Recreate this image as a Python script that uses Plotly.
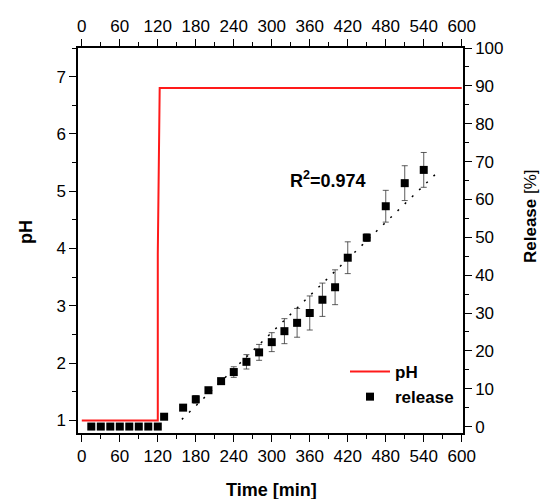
import plotly.graph_objects as go

# pH profile of the release medium
ph_time = [0, 120, 120, 123, 600]
ph_value = [1.0, 1.0, 3.9, 6.8, 6.8]

# cumulative release (%) with standard deviation
rel_time = [15, 30, 45, 60, 75, 90, 105, 120,
            130, 160, 180, 200, 220, 240, 260, 280, 300, 320, 340, 360,
            380, 400, 420, 450, 480, 510, 540]
rel_value = [0, 0, 0, 0, 0, 0, 0, 0,
             2.6, 5.0, 7.2, 9.6, 12.0, 14.4, 17.1, 19.6, 22.3, 25.2, 27.4, 30.0,
             33.5, 36.8, 44.6, 49.9, 58.2, 64.3, 67.8]
rel_error = [0, 0, 0, 0, 0, 0, 0, 0,
             0.3, 0.5, 1.0, 0.5, 0.5, 1.4, 1.9, 2.1, 2.5, 3.3, 3.8, 4.5,
             4.4, 4.6, 4.2, 1.0, 4.2, 4.6, 4.6]

# linear fit of the release phase
fit_time = [158, 560]
fit_value = [1.9, 66.9]
r_squared = "0.974"

time_ticks = list(range(0, 601, 60))

FONT = "Liberation Sans, Arial, sans-serif"
L, R, T, B = 78, 78, 48, 66
W, H = 541, 499
PW, PH = W - L - R, H - T - B


def px_x(px):
    return (px - L) / PW


def px_y(py):
    return 1 - (py - T) / PH


fig = go.Figure()

fig.add_trace(go.Scatter(
    x=ph_time, y=ph_value, mode="lines", name="<b>pH</b>",
    line=dict(color="#ff1a1a", width=2), xaxis="x", yaxis="y",
))
fig.add_trace(go.Scatter(
    x=rel_time, y=rel_value, mode="markers", name="<b>release</b>",
    marker=dict(symbol="square", size=8, color="black"),
    error_y=dict(type="data", array=rel_error, visible=True,
                 color="#333333", thickness=0.8, width=3),
    xaxis="x", yaxis="y2",
))
fig.add_trace(go.Scatter(
    x=fit_time, y=fit_value, mode="lines", showlegend=False,
    line=dict(color="black", width=1.5, dash="2px,8px"),
    xaxis="x", yaxis="y2",
))
# invisible trace so the top time axis is drawn
fig.add_trace(go.Scatter(
    x=[0], y=[1], mode="markers", showlegend=False, hoverinfo="skip",
    marker=dict(opacity=0), xaxis="x2", yaxis="y",
))

x_range = [-6, 602]
axis_common = dict(
    showgrid=False, zeroline=False, showline=True, linecolor="black",
    linewidth=1.5, ticks="outside", ticklen=7, tickwidth=1.2,
    tickcolor="black", tickfont=dict(family=FONT, size=17, color="black"),
)
minor_x = dict(dtick=30, tick0=0, ticks="outside", ticklen=4, tickcolor="black")

fig.update_layout(
    width=W, height=H,
    margin=dict(l=L, r=R, t=T, b=B),
    paper_bgcolor="white", plot_bgcolor="white",
    font=dict(family=FONT, color="black"),
    xaxis=dict(range=x_range, tickmode="array", tickvals=time_ticks,
               minor=minor_x, **axis_common),
    xaxis2=dict(range=x_range, overlaying="x", side="top", anchor="y",
                tickmode="array", tickvals=time_ticks,
                minor=minor_x, **axis_common),
    yaxis=dict(
        range=[0.78, 7.5], dtick=1, tick0=0,
        minor=dict(dtick=0.5, tick0=0, ticks="outside", ticklen=4,
                   tickcolor="black"),
        **axis_common,
    ),
    yaxis2=dict(
        range=[-1.7, 100], overlaying="y", side="right", anchor="x",
        dtick=10, tick0=0,
        minor=dict(dtick=5, tick0=0, ticks="outside", ticklen=4,
                   tickcolor="black"),
        **axis_common,
    ),
    legend=dict(
        x=px_x(345), y=px_y(354), xanchor="left", yanchor="top",
        bgcolor="rgba(0,0,0,0)", borderwidth=0,
        font=dict(family=FONT, size=17, color="black"),
        traceorder="grouped", tracegroupgap=6, itemwidth=40,
    ),
    showlegend=True,
)

# axis titles and fit quality
fig.add_annotation(
    text="<b>Time [min]</b>", xref="paper", yref="paper",
    x=px_x(271), y=px_y(490), xanchor="center", yanchor="middle",
    showarrow=False, font=dict(family=FONT, size=18, color="black"),
)
fig.add_annotation(
    text="<b>pH</b>", xref="paper", yref="paper", textangle=-90,
    x=px_x(26), y=px_y(232), xanchor="center", yanchor="middle",
    showarrow=False, font=dict(family=FONT, size=18, color="black"),
)
fig.add_annotation(
    text="<b>Release</b> [%]", xref="paper", yref="paper", textangle=-90,
    x=px_x(531), y=px_y(216), xanchor="center", yanchor="middle",
    showarrow=False, font=dict(family=FONT, size=17, color="black"),
)
fig.add_annotation(
    text="<b>R<sup>2</sup>=" + r_squared + "</b>", xref="paper", yref="paper",
    x=px_x(328), y=px_y(179), xanchor="center", yanchor="middle",
    showarrow=False, font=dict(family=FONT, size=18, color="black"),
)

fig.write_html("out.html")
